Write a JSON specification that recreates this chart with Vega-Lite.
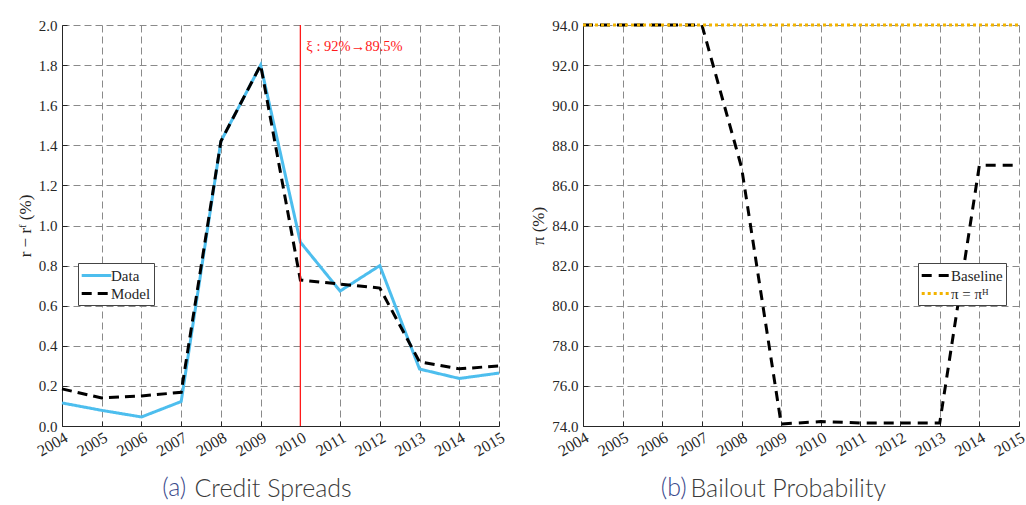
{
  "$schema": "https://vega.github.io/schema/vega-lite/v6.json",
  "autosize": {"type": "pad"},
  "padding": {"left": 16, "top": 18, "right": 0, "bottom": 0},
  "background": "white",
  "spacing": 84,
  "bounds": "flush",
  "resolve": {"scale": {"color": "independent", "strokeDash": "independent"}, "legend": {"color": "independent", "strokeDash": "independent"}},
  "config": {
    "view": {"stroke": null},
    "axis": {
      "labelFont": "Liberation Serif", "titleFont": "Liberation Serif",
      "labelFontSize": 15, "titleFontSize": 17, "titleFontWeight": "normal",
      "labelColor": "#262626", "titleColor": "#262626",
      "gridDash": [7, 4], "gridColor": "#8a8a8a", "gridOpacity": 1, "gridWidth": 1,
      "domainColor": "#262626", "domainWidth": 1, "ticks": true, "tickSize": -5, "tickColor": "#262626", "labelPadding": 10
    },
    "axisX": {"labelAngle": -30, "labelAlign": "right", "labelBaseline": "top", "labelFontSize": 16, "labelOverlap": false, "labelFlush": false, "labelPadding": 8},
    "legend": {
      "labelFont": "Liberation Serif", "labelFontSize": 15, "labelColor": "#262626",
      "symbolType": "M-1.85,0H1.85", "symbolSize": 256, "symbolStrokeWidth": 3, "symbolOffset": 6,
      "fillColor": "white", "strokeColor": "#444", "padding": 3, "rowPadding": 0, "labelOffset": 5
    },
    "title": {"font": "Lato", "fontSize": 25, "fontWeight": 300, "color": "#3b4a8c"}
  },
  "datasets": {
    "spreads": [
      {"year": 2004, "series": "Data", "value": 0.115},
      {"year": 2005, "series": "Data", "value": 0.078},
      {"year": 2006, "series": "Data", "value": 0.045},
      {"year": 2007, "series": "Data", "value": 0.122},
      {"year": 2008, "series": "Data", "value": 1.42},
      {"year": 2009, "series": "Data", "value": 1.80},
      {"year": 2010, "series": "Data", "value": 0.917},
      {"year": 2011, "series": "Data", "value": 0.673},
      {"year": 2012, "series": "Data", "value": 0.80},
      {"year": 2013, "series": "Data", "value": 0.284},
      {"year": 2014, "series": "Data", "value": 0.237},
      {"year": 2015, "series": "Data", "value": 0.264},
      {"year": 2004, "series": "Model", "value": 0.185},
      {"year": 2005, "series": "Model", "value": 0.14},
      {"year": 2006, "series": "Model", "value": 0.15},
      {"year": 2007, "series": "Model", "value": 0.168},
      {"year": 2008, "series": "Model", "value": 1.42},
      {"year": 2009, "series": "Model", "value": 1.80},
      {"year": 2010, "series": "Model", "value": 0.728},
      {"year": 2011, "series": "Model", "value": 0.708},
      {"year": 2012, "series": "Model", "value": 0.688},
      {"year": 2013, "series": "Model", "value": 0.32},
      {"year": 2014, "series": "Model", "value": 0.285},
      {"year": 2015, "series": "Model", "value": 0.30}
    ],
    "bailout": [
      {"year": 2004, "series": "Baseline", "value": 94.0},
      {"year": 2005, "series": "Baseline", "value": 94.0},
      {"year": 2006, "series": "Baseline", "value": 94.0},
      {"year": 2007, "series": "Baseline", "value": 94.0},
      {"year": 2008, "series": "Baseline", "value": 86.9},
      {"year": 2009, "series": "Baseline", "value": 74.1},
      {"year": 2010, "series": "Baseline", "value": 74.22},
      {"year": 2011, "series": "Baseline", "value": 74.15},
      {"year": 2012, "series": "Baseline", "value": 74.15},
      {"year": 2013, "series": "Baseline", "value": 74.15},
      {"year": 2014, "series": "Baseline", "value": 87.0},
      {"year": 2015, "series": "Baseline", "value": 87.0},
      {"year": 2004, "series": "π = πᴴ", "value": 94.0},
      {"year": 2005, "series": "π = πᴴ", "value": 94.0},
      {"year": 2006, "series": "π = πᴴ", "value": 94.0},
      {"year": 2007, "series": "π = πᴴ", "value": 94.0},
      {"year": 2008, "series": "π = πᴴ", "value": 94.0},
      {"year": 2009, "series": "π = πᴴ", "value": 94.0},
      {"year": 2010, "series": "π = πᴴ", "value": 94.0},
      {"year": 2011, "series": "π = πᴴ", "value": 94.0},
      {"year": 2012, "series": "π = πᴴ", "value": 94.0},
      {"year": 2013, "series": "π = πᴴ", "value": 94.0},
      {"year": 2014, "series": "π = πᴴ", "value": 94.0},
      {"year": 2015, "series": "π = πᴴ", "value": 94.0}
    ],
    "event": [
      {"year": 2010, "label": "ξ : 92%→89.5%"}
    ]
  },
  "hconcat": [
    {
      "width": 437,
      "height": 401,
      "title": {"text": "(a)", "orient": "bottom", "anchor": "start", "align": "left", "baseline": "alphabetic", "dx": 146, "dy": -5, "offset": 0},
      "encoding": {
        "x": {"field": "year", "type": "quantitative",
              "scale": {"domain": [2004, 2015], "nice": false, "zero": false},
              "axis": {"values": [2004, 2005, 2006, 2007, 2008, 2009, 2010, 2011, 2012, 2013, 2014, 2015], "format": "d",
                       "title": "Credit Spreads", "titleFont": "Lato", "titleFontSize": 25, "titleFontWeight": 300, "titleColor": "#3a3a3a",
                       "titleAngle": 0, "titleAlign": "left", "titleBaseline": "alphabetic", "titleX": 132, "titleY": 70}}
      },
      "layer": [
        {
          "data": {"name": "spreads"},
          "transform": [{"filter": "datum.series === 'Data'"}],
          "mark": {"type": "line", "strokeWidth": 3},
          "encoding": {
            "y": {"field": "value", "type": "quantitative",
                  "scale": {"domain": [0, 2], "nice": false},
                  "axis": {"values": [0, 0.2, 0.4, 0.6, 0.8, 1.0, 1.2, 1.4, 1.6, 1.8, 2.0], "format": ".1f", "title": "r − rᶠ (%)", "titlePadding": 4}},
            "color": {"field": "series", "type": "nominal",
                      "scale": {"domain": ["Data", "Model"], "range": ["#4DBEEE", "#000000"]},
                      "legend": {"title": null, "orient": "none", "legendX": 16, "legendY": 238}},
            "strokeDash": {"field": "series", "type": "nominal",
                           "scale": {"domain": ["Data", "Model"], "range": [[1, 0], [10, 6]]},
                           "legend": {"title": null, "orient": "none", "legendX": 16, "legendY": 238}}
          }
        },
        {
          "data": {"name": "spreads"},
          "transform": [{"filter": "datum.series === 'Model'"}],
          "mark": {"type": "line", "strokeWidth": 3},
          "encoding": {
            "y": {"field": "value", "type": "quantitative"},
            "color": {"field": "series", "type": "nominal"},
            "strokeDash": {"field": "series", "type": "nominal"}
          }
        },
        {
          "data": {"name": "event"},
          "mark": {"type": "rule", "color": "#ff1a1a", "strokeWidth": 1.3},
          "encoding": {}
        },
        {
          "data": {"name": "event"},
          "mark": {"type": "text", "color": "#ff1a1a", "font": "Liberation Serif", "fontSize": 14.5, "align": "left", "baseline": "middle", "dx": 6},
          "encoding": {
            "y": {"datum": 1.89, "type": "quantitative"},
            "text": {"field": "label"}
          }
        }
      ]
    },
    {
      "width": 436,
      "height": 401,
      "title": {"text": "(b)", "orient": "bottom", "anchor": "start", "align": "left", "baseline": "alphabetic", "dx": 131, "dy": -5, "offset": 0},
      "data": {"name": "bailout"},
      "encoding": {
        "x": {"field": "year", "type": "quantitative",
              "scale": {"domain": [2004, 2015], "nice": false, "zero": false},
              "axis": {"values": [2004, 2005, 2006, 2007, 2008, 2009, 2010, 2011, 2012, 2013, 2014, 2015], "format": "d",
                       "title": "Bailout Probability", "titleFont": "Lato", "titleFontSize": 25, "titleFontWeight": 300, "titleColor": "#3a3a3a",
                       "titleAngle": 0, "titleAlign": "left", "titleBaseline": "alphabetic", "titleX": 107, "titleY": 70}},
        "y": {"field": "value", "type": "quantitative",
              "scale": {"domain": [74, 94], "nice": false, "zero": false},
              "axis": {"values": [74, 76, 78, 80, 82, 84, 86, 88, 90, 92, 94], "format": ".1f", "title": "π (%)", "titlePadding": 4}},
        "color": {"field": "series", "type": "nominal",
                  "scale": {"domain": ["Baseline", "π = πᴴ"], "range": ["#000000", "#F2B300"]},
                  "legend": {"title": null, "orient": "none", "legendX": 335, "legendY": 238}},
        "strokeDash": {"field": "series", "type": "nominal",
                       "scale": {"domain": ["Baseline", "π = πᴴ"], "range": [[10, 7], [3, 3]]},
                       "legend": {"title": null, "orient": "none", "legendX": 335, "legendY": 238}}
      },
      "layer": [
        {
          "transform": [{"filter": "datum.series === 'Baseline'"}],
          "mark": {"type": "line", "strokeWidth": 3}
        },
        {
          "transform": [{"filter": "datum.series !== 'Baseline'"}],
          "mark": {"type": "line", "strokeWidth": 3}
        }
      ]
    }
  ]
}
